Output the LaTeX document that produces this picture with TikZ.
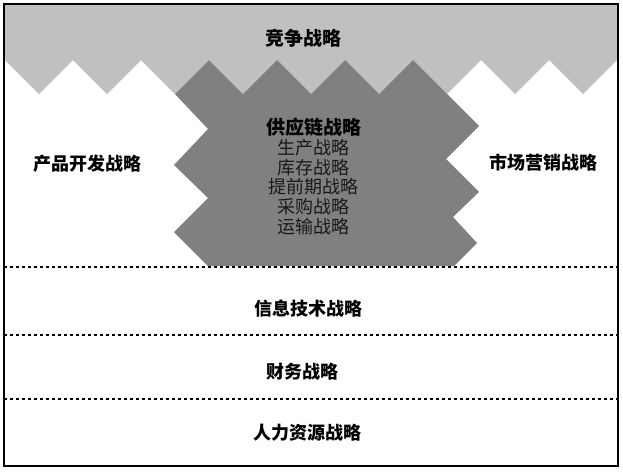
\documentclass[tikz,border=0pt]{standalone}
\usepackage{fontspec}
\newfontfamily\cjk{Noto Sans CJK SC}
\begin{document}
\begin{tikzpicture}[x=1pt,y=-1pt,
  title/.style={inner sep=0pt,font=\cjk\bfseries\fontsize{18}{18}\selectfont,text=black},
  bigtitle/.style={inner sep=0pt,font=\cjk\bfseries\fontsize{19}{19}\selectfont,text=black},
  sub/.style={inner sep=0pt,font=\cjk\fontsize{18}{18}\selectfont,text=black!90},
  sep/.style={line width=1.8pt,dash pattern=on 2.6pt off 3.4pt},
  frame/.style={line width=1.6pt,draw=black}]
\useasboundingbox (0,0) rectangle (623,472);
\fill[white] (0,0) rectangle (623,472);
% light gray competitive band
\fill[fill={rgb,255:red,192;green,192;blue,192}]
  (4,4) -- (618,4) -- (618,61) -- (617,60) -- (583,94) -- (549,60) -- (515,94)
  -- (481,60) -- (447,94) -- (413,60) -- (379,94) -- (345,60) -- (311,94)
  -- (277,60) -- (243,94) -- (209,60) -- (175,94) -- (141,60) -- (107,94)
  -- (73,60) -- (39,94) -- (5,60) -- (4,61) -- cycle;
% dark gray supply chain shape
\fill[fill={rgb,255:red,128;green,128;blue,128}]
  (175,94) -- (209,60) -- (243,94) -- (277,60) -- (311,94) -- (345,60)
  -- (379,94) -- (413,60) -- (479,126) -- (446,159) -- (479,192) -- (453,217)
  -- (477,243) -- (454,266) -- (208,266) -- (174,232) -- (208,198)
  -- (174,165) -- (208,129) -- cycle;
% separators
\draw[sep] (4,267) -- (618,267);
\draw[sep] (4,335) -- (618,335);
\draw[sep] (4,399) -- (618,399);
% frame
\draw[frame] (4,4) rectangle (618,466);
% texts
\node[bigtitle] (jz) at (303,38) {竞争战略};
\node[title] (cp) at (87,164) {产品开发战略};
\node[title] (sc) at (543,163) {市场营销战略};
\node[bigtitle] (gy) at (314,127) {供应链战略};
\node[sub] (s1) at (313,148) {生产战略};
\node[sub] (s2) at (313,167.5) {库存战略};
\node[sub] (s3) at (313,187) {提前期战略};
\node[sub] (s4) at (313,207) {采购战略};
\node[sub] (s5) at (313,227) {运输战略};
\node[title] (xx) at (308,309) {信息技术战略};
\node[title] (cw) at (302.5,372) {财务战略};
\node[title] (rl) at (307,433) {人力资源战略};
\end{tikzpicture}
\end{document}
